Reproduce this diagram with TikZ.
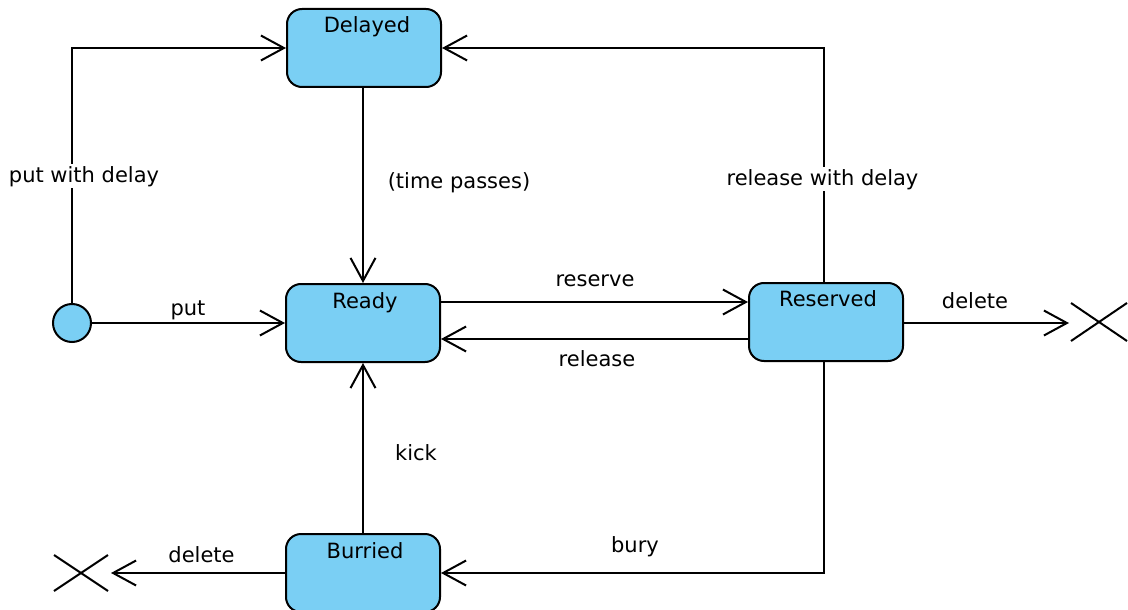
\documentclass[tikz,border=0pt]{standalone}
\usepackage{fontspec}
\setmainfont{DejaVu Sans}
\usetikzlibrary{arrows.meta}
\definecolor{boxblue}{RGB}{122,207,244}
\begin{document}
\begin{tikzpicture}[x=1pt,y=-1pt,
  every node/.style={font=\fontsize{21}{25}\selectfont},
  state/.style={draw=black, line width=2pt, fill=boxblue, rounded corners=15pt,
    minimum width=154pt, minimum height=78pt, inner sep=0pt},
  statename/.style={anchor=base, inner sep=0pt},
  lbl/.style={anchor=base, inner sep=1pt},
  wlbl/.style={anchor=base, inner sep=2pt, fill=white},
  arr/.style={line width=2pt, -{Straight Barb[length=23pt,width=25pt,line width=2pt]}},
  xmark/.style={line width=2pt}
]
\useasboundingbox (0,0) rectangle (1128,610);

% states
\node[state] (del) at (364,48) {};
\node[statename] (delname) at (367,33) {Delayed};
\node[state] (ready) at (363,323) {};
\node[statename] (readyname) at (365,308) {Ready};
\node[state] (res) at (826,322) {};
\node[statename] (resname) at (828,306) {Reserved};
\node[state] (bur) at (363,573) {};
\node[statename] (burname) at (365,558) {Burried};

% initial state
\node[draw=black, line width=2pt, fill=boxblue, circle, minimum size=38pt, inner sep=0pt] (init) at (72,323) {};

% termination marks
\coordinate (xr) at (1099,322);
\coordinate (xrtip) at (1069,323);
\coordinate (xl) at (81,573);
\coordinate (xltip) at (111,573);
\draw[xmark] ([shift={(-28,-19)}]xr) -- ([shift={(28,19)}]xr);
\draw[xmark] ([shift={(-28,19)}]xr) -- ([shift={(28,-19)}]xr);
\draw[xmark] ([shift={(-27,-18)}]xl) -- ([shift={(27,18)}]xl);
\draw[xmark] ([shift={(-27,18)}]xl) -- ([shift={(27,-18)}]xl);

% connectors
\draw[arr] (init.east) -- (init.east -| ready.west);
\draw[arr] (init.north) |- (del.west);
\draw[arr] (ready.north |- del.south) -- (ready.north);
\draw[arr] ([xshift=-2pt]res.north) |- (del.east);
\draw[arr] ([yshift=21pt]ready.east) -- ([yshift=21pt]ready.east -| res.west);
\draw[arr] ([yshift=-17pt]res.west) -- ([yshift=-17pt]res.west -| ready.east);
\draw[arr] (res.east |- xrtip) -- (xrtip);
\draw[arr] (bur.north) -- (ready.south);
\draw[arr] ([xshift=-2pt]res.south) |- (bur.east);
\draw[arr] (bur.west) -- (bur.west -| xltip);

% labels
\node[wlbl] (lputdelay) at (84,182) {put with delay};
\node[lbl] (lput) at (188,315) {put};
\node[lbl] (ltime) at (459,188) {(time passes)};
\node[wlbl] (lreldelay) at (822.5,185) {release with delay};
\node[lbl] (lreserve) at (595,286) {reserve};
\node[lbl] (lrelease) at (597,366) {release};
\node[lbl] (ldelr) at (975,308) {delete};
\node[lbl] (lkick) at (416,460) {kick};
\node[lbl] (lbury) at (635,552) {bury};
\node[lbl] (ldell) at (201.5,562) {delete};
\end{tikzpicture}
\end{document}
